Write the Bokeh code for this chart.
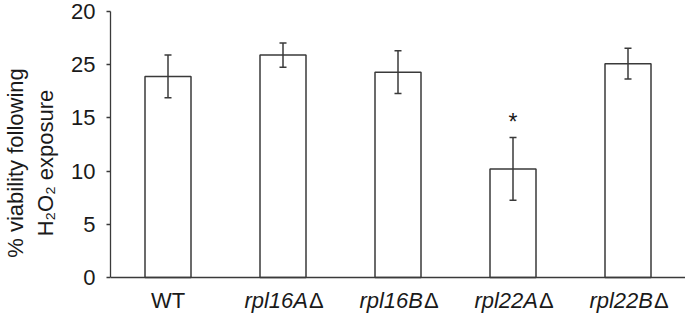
from bokeh.plotting import figure
from bokeh.models import Range1d, FixedTicker, ColumnDataSource, Whisker, TeeHead, Span
from bokeh.core.properties import value
from bokeh.embed import file_html
from bokeh.resources import INLINE

# ---- data ----
strains = ["WT", "rpl16A\u0394", "rpl16B\u0394", "rpl22A\u0394", "rpl22B\u0394"]
italic = [False, True, True, True, True]
viability = [18.9, 20.9, 19.3, 10.2, 20.1]
err = [2.0, 1.15, 2.0, 2.95, 1.45]
signif = ["", "", "", "*", ""]
y_ticks = [0, 5, 10, 15, 20, 25]
y_tick_labels = ["0", "5", "10", "15", "25", "20"]

FONT = "Liberation Sans"
TXT = "#1a1a1a"
LINE = "#3a3a3a"
FS = "22px"

xs = list(range(len(strains)))
upper = [v + e for v, e in zip(viability, err)]
lower = [v - e for v, e in zip(viability, err)]
src = ColumnDataSource(dict(x=xs, top=viability, upper=upper, lower=lower))

y_max = max(y_ticks)
y_min = -y_max * 37 / 266  # room below the baseline for category labels
p = figure(width=685, height=314, output_backend="svg", toolbar_location=None,
           x_range=Range1d(-0.5, len(strains) - 0.5), y_range=Range1d(y_min, y_max),
           min_border_left=110, min_border_right=0, min_border_top=11, min_border_bottom=0)
p.outline_line_color = None
p.grid.visible = False
p.xaxis.visible = False
p.background_fill_color = "white"
p.border_fill_color = "white"

p.vbar(x="x", top="top", width=0.4, bottom=0, source=src, fill_color="white",
       line_color=LINE, line_width=1.5)
w = Whisker(base="x", upper="upper", lower="lower", source=src, line_color=LINE, line_width=1.5,
            level="annotation",
            upper_head=TeeHead(size=7, line_color=LINE, line_width=1.5),
            lower_head=TeeHead(size=7, line_color=LINE, line_width=1.5))
p.add_layout(w)
p.add_layout(Span(location=0, dimension="width", line_color=LINE, line_width=1.3))

# significance marks
sx = [i for i, s in enumerate(signif) if s]
p.text(x=sx, y=[upper[i] + 1.45 for i in sx], text=[signif[i] for i in sx],
       text_font=value(FONT), text_font_size="23px", text_color=TXT,
       text_align="center", text_baseline="middle")

# category labels: plain ones centred; italic gene names with an upright delta
LY = -2.2
plain = [i for i, it in enumerate(italic) if not it]
p.text(x=plain, y=[LY] * len(plain), text=[strains[i] for i in plain],
       text_font=value(FONT), text_font_size=FS, text_color=TXT,
       text_align="center", text_baseline="middle")
ital = [i for i, it in enumerate(italic) if it]
p.text(x=ital, y=[LY] * len(ital), text=[strains[i].rstrip("\u0394") for i in ital],
       text_font=value(FONT), text_font_size=FS, text_font_style="italic", text_color=TXT,
       text_align="right", text_baseline="middle", x_offset=25)
p.text(x=ital, y=[LY] * len(ital), text=[strains[i][len(strains[i].rstrip("\u0394")):] for i in ital],
       text_font=value(FONT), text_font_size=FS, text_color=TXT,
       text_align="left", text_baseline="middle", x_offset=26)

# y axis
ya = p.yaxis[0]
ya.bounds = (0, y_max)
ya.ticker = FixedTicker(ticks=y_ticks)
ya.major_label_overrides = {t: l for t, l in zip(y_ticks, y_tick_labels)}
ya.minor_tick_line_color = None
ya.major_tick_in = 0
ya.major_tick_out = 4
ya.major_tick_line_color = LINE
ya.axis_line_color = LINE
ya.axis_line_width = 1.3
ya.major_tick_line_width = 1.3
ya.major_label_text_font = FONT
ya.major_label_text_font_size = FS
ya.major_label_text_color = TXT
ya.major_label_standoff = 11
ya.axis_label = "% viability following\nH\u2082O\u2082 exposure"
ya.axis_label_text_font = FONT
ya.axis_label_text_font_size = FS
ya.axis_label_text_font_style = "normal"
ya.axis_label_text_color = TXT
ya.axis_label_standoff = 10

open("out.html", "w").write(file_html(p, INLINE))
